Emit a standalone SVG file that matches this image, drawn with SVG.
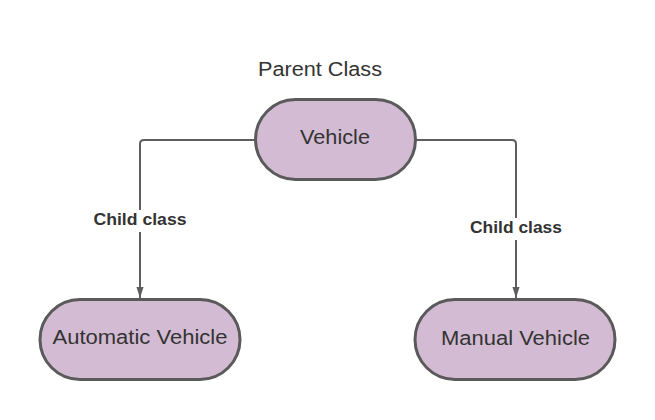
<svg xmlns="http://www.w3.org/2000/svg" width="655" height="420" viewBox="0 0 655 420">
<style>
.node{fill:#d3bcd3;stroke:#5a5a5a;stroke-width:3}
.conn{fill:none;stroke:#5e5e5e;stroke-width:2}
.t{font-family:"Liberation Sans",Arial,sans-serif;font-size:19.5px;fill:#333;text-anchor:middle}
.lbl{font-family:"Liberation Sans",Arial,sans-serif;font-size:16px;font-weight:bold;fill:#333;text-anchor:middle}
</style>
<defs>
<marker id="arr" markerUnits="userSpaceOnUse" markerWidth="12" markerHeight="18" refX="17" refY="6" orient="auto" viewBox="0 0 18 12">
<path d="M0 0.5 L17 6 L0 11.5 Z" fill="#5e5e5e"/>
</marker>
</defs>
<rect width="655" height="420" fill="#fff"/>
<text class="t" x="320" y="76" textLength="124" lengthAdjust="spacingAndGlyphs">Parent Class</text>
<g id="connectors">
<path class="conn" d="M255 140 H144 Q140 140 140 144 V298" marker-end="url(#arr)"/>
<path class="conn" d="M416 140 H512 Q516 140 516 144 V298" marker-end="url(#arr)"/>
<rect x="92" y="210" width="96" height="22" fill="#fff"/>
<rect x="468" y="218" width="96" height="22" fill="#fff"/>
<text class="lbl" x="140" y="225" textLength="93" lengthAdjust="spacingAndGlyphs">Child class</text>
<text class="lbl" x="516" y="233" textLength="92" lengthAdjust="spacingAndGlyphs">Child class</text>
</g>
<g id="vehicle">
<rect class="node" x="255.5" y="99.5" width="160" height="80" rx="40"/>
<text class="t" x="335" y="144" textLength="70" lengthAdjust="spacingAndGlyphs">Vehicle</text>
</g>
<g id="automatic">
<rect class="node" x="40" y="299.5" width="200" height="80" rx="40"/>
<text class="t" x="140" y="344" textLength="175" lengthAdjust="spacingAndGlyphs">Automatic Vehicle</text>
</g>
<g id="manual">
<rect class="node" x="415" y="299.5" width="200" height="80" rx="40"/>
<text class="t" x="515.5" y="345" textLength="149" lengthAdjust="spacingAndGlyphs">Manual Vehicle</text>
</g>
</svg>
